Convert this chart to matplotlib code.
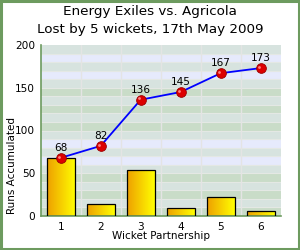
import numpy as np
import matplotlib
matplotlib.use("Agg")
import matplotlib.pyplot as plt
from matplotlib.patches import Rectangle
from matplotlib.colors import LinearSegmentedColormap

# Data
partnerships = ["1", "2", "3", "4", "5", "6"]
partnership_runs = [68, 14, 54, 9, 22, 6]
runs_accumulated = [68, 82, 136, 145, 167, 173]
title_line1 = "Energy Exiles vs. Agricola"
title_line2 = "Lost by 5 wickets, 17th May 2009"
y_ticks = [0, 50, 100, 150, 200]

plt.rcParams['font.family'] = ['DejaVu Sans']
fig = plt.figure(figsize=(3.0, 2.5), dpi=100)
fig.patch.set_facecolor('white')

ax = fig.add_axes([40.7/300, 34/250, 240/300, 171/250])
x = np.arange(1, len(partnerships) + 1)

# background bands
blue = '#e6eafc'
grey = '#d7e3df'
green = '#c9dcc8'
for lo in range(0, 200, 10):
    block = lo // 50
    if (lo // 10) % 2 == 1:
        c = grey
    else:
        c = green if block in (0, 2) else blue
    ax.axhspan(lo, lo + 10, color=c, lw=0, zorder=0)
for yv in range(10, 200, 10):
    ax.axhline(yv, color='#e4e8e4', lw=0.8, zorder=0.5)
for xv in np.arange(1.5, len(partnerships), 1.0):
    ax.axvline(xv, color='#e4e4e4', lw=1.0, zorder=0.5)

# bars with gradient
cmap = LinearSegmentedColormap.from_list('oy', ['#eea000', '#ffff00'])
bars = ax.bar(x, partnership_runs, width=0.7, color='none', edgecolor='black', lw=0.9, zorder=3)
grad = np.linspace(0, 1, 64).reshape(1, -1)
for b in bars:
    bx, by = b.get_x(), b.get_y()
    w, h = b.get_width(), b.get_height()
    im = ax.imshow(grad, cmap=cmap, extent=[bx, bx + w, by, by + h], aspect='auto', zorder=2)
    im.set_clip_path(b)
ax.set_aspect('auto')
ax.set_xlim(0.5, len(partnerships) + 0.5)
ax.set_ylim(0, 200)

# line
ax.plot(x, runs_accumulated, color='#0000ff', lw=1.3, zorder=4)
ax.plot(x, runs_accumulated, 'o', ms=7, color='#dd0000', mec='#990000', mew=0.6, zorder=5)
ax.plot(x - 0.04, np.array(runs_accumulated) + 1.5, 'o', ms=2, color='#ff8080', mew=0, zorder=6)
for xi, v in zip(x, runs_accumulated):
    ax.annotate(str(v), (xi, v), xytext=(0, 7), textcoords='offset points',
                ha='center', va='center', fontsize=7.6, zorder=7)

ax.set_xticks(x)
ax.set_xticklabels(partnerships)
ax.set_yticks(y_ticks)
ax.tick_params(length=0, labelsize=7.6, pad=4)
for s in ['top', 'right']:
    ax.spines[s].set_visible(False)
for s in ['left', 'bottom']:
    ax.spines[s].set_color('#6d9b5f')
    ax.spines[s].set_linewidth(1.2)

fig.text(160.7/300, 1 - 236/250, 'Wicket Partnership', ha='center', va='center', fontsize=7.5)
fig.text(12/300, 1 - 166/250, 'Runs Accumulated', ha='center', va='center', rotation=90, fontsize=7.5)
fig.text(0.5, 1 - 11/250, title_line1, ha='center', va='center', fontsize=9.7)
fig.text(0.5, 1 - 30/250, title_line2, ha='center', va='center', fontsize=9.7)

fig.add_artist(Rectangle((0.003, 0.004), 0.994, 0.992, transform=fig.transFigure,
                         fill=False, edgecolor='#6d9b5f', lw=2.2))

fig.savefig('out.png', dpi=100)
